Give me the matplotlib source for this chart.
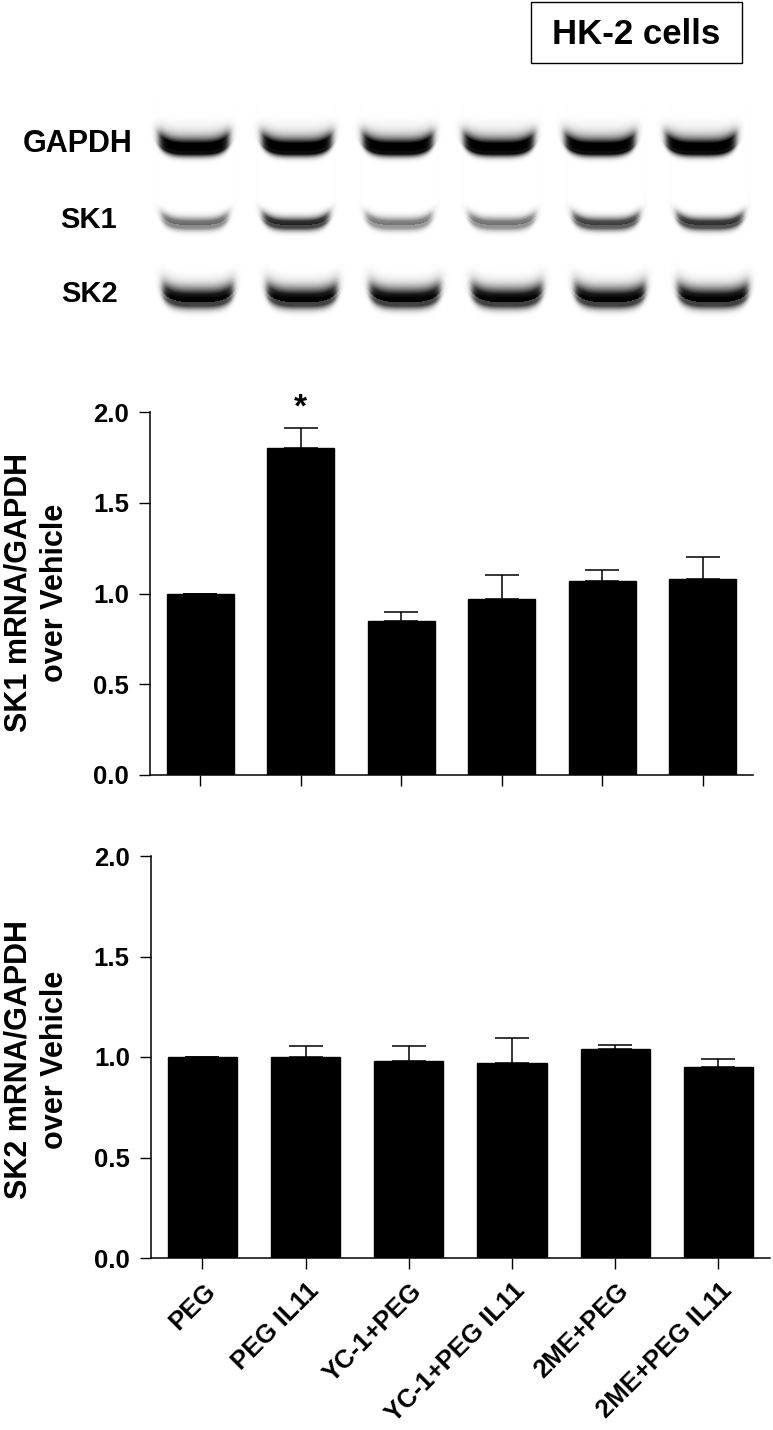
import numpy as np
import matplotlib
matplotlib.use("Agg")
import matplotlib.pyplot as plt
from matplotlib.transforms import ScaledTranslation

plt.rcParams['font.family'] = ['Liberation Sans', 'DejaVu Sans']
plt.rcParams['font.weight'] = 'bold'

# ---------------- data ----------------
groups = ["PEG", "PEG IL11", "YC-1+PEG", "YC-1+PEG IL11", "2ME+PEG", "2ME+PEG IL11"]
sk1_mean = [1.00, 1.80, 0.85, 0.97, 1.07, 1.08]
sk1_sem = [0.00, 0.11, 0.05, 0.13, 0.06, 0.12]
sk2_mean = [1.00, 1.00, 0.98, 0.97, 1.04, 0.95]
sk2_sem = [0.00, 0.055, 0.076, 0.126, 0.02, 0.04]
yticks = [0.0, 0.5, 1.0, 1.5, 2.0]
ytick_labels = ["0.0", "0.5", "1.0", "1.5", "2.0"]
gel_rows = ["GAPDH", "SK1", "SK2"]
# relative band darkness per lane
gapdh_dark = [0.95, 0.95, 0.95, 0.95, 0.95, 0.95]
sk1_dark = [0.45, 0.72, 0.40, 0.42, 0.62, 0.68]
sk2_dark = [0.74, 0.74, 0.74, 0.74, 0.74, 0.74]

W, H = 773, 1430
fig = plt.figure(figsize=(W / 100, H / 100), dpi=100)

# ---------------- gel picture ----------------
gax = fig.add_axes([0, 0, 1, 1])
gax.set_xlim(0, W)
gax.set_ylim(H, 0)
gax.axis('off')

y0g, y1g = 100, 335
xs = np.arange(W) + 0.5
ys = np.arange(y0g, y1g) + 0.5
X, Y = np.meshgrid(xs, ys)
img = np.zeros_like(X)


def band(cx, half_w, y_core, sig_up, sig_dn, haze_top, dark, haze, smile):
    u = (X - cx) / half_w
    hx = 1.0 / (1.0 + np.exp((np.abs(X - cx) - half_w) / 2.0))
    yc = y_core - smile * np.clip(u, -1.2, 1.2) ** 4
    d = Y - yc
    core = np.where(d < 0, np.exp(-0.5 * (d / sig_up) ** 2), np.exp(-0.5 * (d / sig_dn) ** 2))
    core = np.clip(core * 1.35, 0, 1)
    hz = np.clip((Y - haze_top) / (yc - haze_top), 0, 1) ** 2 * (d < 0)
    return hx * np.clip(dark * core + haze * hz, 0, 1)


gapdh_x = [194, 297, 398, 499, 600, 701]
sk1_x = [195, 296, 399, 502, 606, 710]
sk2_x = [198, 302, 405, 507, 610, 713]
for i in range(6):
    img = np.maximum(img, band(gapdh_x[i], 35, 151, 8, 4, 110, gapdh_dark[i], 0.3, 9))
    img = np.maximum(img, band(sk1_x[i], 33, 225, 5, 4, 211, sk1_dark[i], 0.15, 8))
    img = np.maximum(img, band(sk2_x[i], 35, 302, 10, 5, 278, sk2_dark[i], 0.35, 9))

gax.imshow(img, cmap='gray_r', vmin=0, vmax=1, extent=[0, W, y1g, y0g],
           interpolation='bilinear', aspect='auto')

gax.text(77.5, 144, "GAPDH", fontsize=22, fontweight='bold', ha='center', va='center')
gax.text(88.5, 220, "SK1", fontsize=21, fontweight='bold', ha='center', va='center')
gax.text(89.5, 294, "SK2", fontsize=21, fontweight='bold', ha='center', va='center')

# title box
gax.add_patch(plt.Rectangle((531, 2), 211, 61, fill=False, lw=1.0, ec='black'))
gax.text(636.5, 34, "HK-2 cells", fontsize=25, fontweight='bold', ha='center', va='center')

# ---------------- bar panels ----------------
def panel(rect, means, sems, ylabel, ylab_y, show_xlabels):
    ax = fig.add_axes(rect)
    x = np.arange(len(groups))
    ax.bar(x, means, width=0.67, color='black', edgecolor='black', zorder=2)
    ax.errorbar(x, means, yerr=[np.zeros(len(sems)), sems], fmt='none', ecolor='black',
                elinewidth=1.1, capsize=12, capthick=1.1, zorder=1)
    ax.set_xlim(-0.5, 5.5)
    ax.set_ylim(0, 2.0)
    ax.set_yticks(yticks)
    ax.set_yticklabels(ytick_labels)
    ax.set_xticks(x)
    for s in ['top', 'right']:
        ax.spines[s].set_visible(False)
    for s in ['left', 'bottom']:
        ax.spines[s].set_linewidth(1.1)
    ax.tick_params(axis='both', length=8, width=1.0, labelsize=18.5, pad=7)
    if show_xlabels:
        ax.set_xticklabels(groups, rotation=45, ha='right', va='top', rotation_mode='anchor',
                           fontsize=18.5, fontweight='bold')
        off = ScaledTranslation(1 / 100, 0, fig.dpi_scale_trans)
        for lab in ax.get_xticklabels():
            lab.set_transform(lab.get_transform() + off)
    else:
        ax.set_xticklabels([])
    for lab in ax.get_yticklabels():
        lab.set_fontweight('bold')
    fig.text(36.5 / W, 1 - ylab_y / H, ylabel, rotation=90, ha='center', va='center',
             multialignment='center', linespacing=1.3, fontsize=22, fontweight='bold')
    return ax


ax1 = panel([150 / W, 1 - 775 / H, 603 / W, 363 / H], sk1_mean, sk1_sem,
            "SK1 mRNA/GAPDH\nover Vehicle", 593, False)
ax1.text(1, 2.02, "*", ha='center', va='center', fontsize=24, fontweight='bold')

ax2 = panel([150.7 / W, 1 - 1258 / H, 619.3 / W, 402 / H], sk2_mean, sk2_sem,
            "SK2 mRNA/GAPDH\nover Vehicle", 1060, True)

fig.savefig("out.png", dpi=100)
